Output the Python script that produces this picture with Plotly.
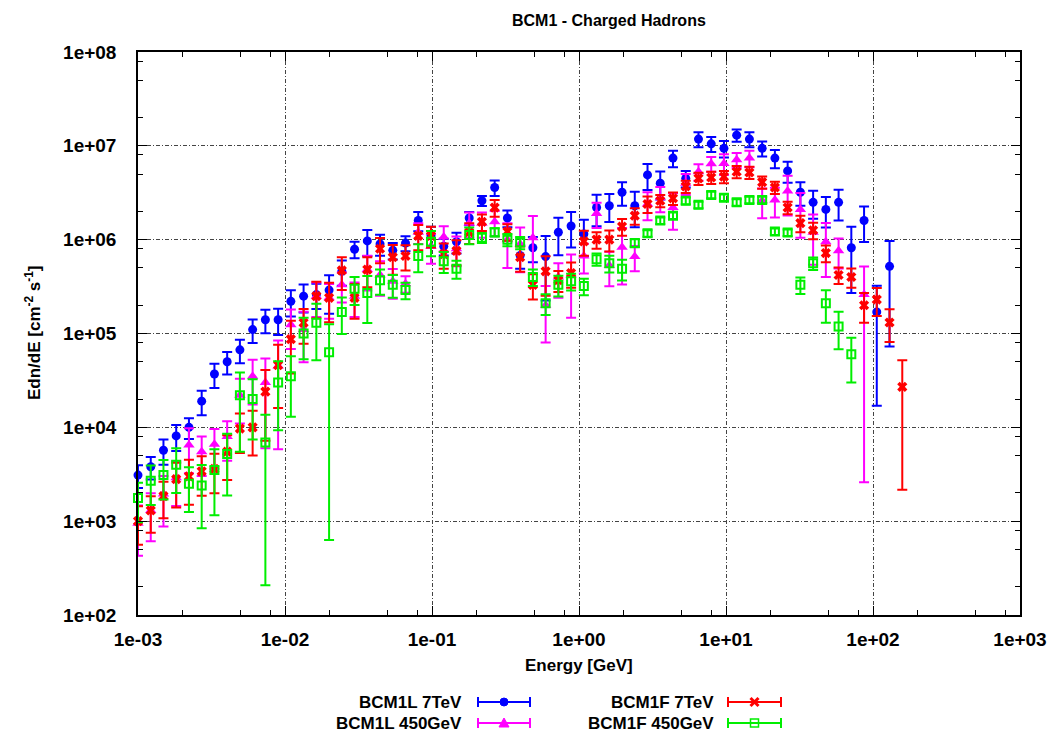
import plotly.graph_objects as go

# ---------------- data ----------------
energy = [0.001, 0.001221, 0.00149, 0.001819, 0.002221, 0.002712, 0.003311, 0.004042,
          0.004934, 0.006024, 0.007354, 0.008978, 0.01096, 0.01338, 0.01634, 0.01995,
          0.02435, 0.02973, 0.0363, 0.04431, 0.0541, 0.06604, 0.08063, 0.09843,
          0.1202, 0.1467, 0.1791, 0.2186, 0.2669, 0.3258, 0.3978, 0.4856, 0.5929,
          0.7238, 0.8836, 1.079, 1.317, 1.608, 1.963, 2.396, 2.925, 3.571, 4.36,
          5.323, 6.498, 7.933, 9.685, 11.82, 14.43, 17.62, 21.51, 26.26, 32.06,
          39.14, 47.78, 58.33, 71.21, 86.94, 106.1, 129.6, 158.2]

bcm1l_7tev = [3.1e3, 3.8e3, 5.7e3, 8.1e3, 1.0e4, 1.9e4, 3.7e4, 5.0e4, 6.7e4, 1.1e5,
              1.4e5, 1.4e5, 2.2e5, 2.5e5, 2.6e5, 2.9e5, 4.6e5, 7.9e5, 9.7e5, 9.0e5,
              7.7e5, 9.2e5, 1.6e6, 1.1e6, 8.5e5, 9.5e5, 1.7e6, 2.6e6, 3.6e6, 1.7e6,
              6.8e5, 8.2e5, 6.6e5, 1.2e6, 1.4e6, 1.15e6, 2.2e6, 2.3e6, 3.2e6, 2.3e6,
              4.9e6, 4.0e6, 7.4e6, 4.5e6, 1.18e7, 1.05e7, 9.4e6, 1.3e7, 1.18e7, 9.4e6,
              7.4e6, 5.4e6, 3.2e6, 2.5e6, 2.1e6, 2.5e6, 8.2e5, 1.6e6, 1.7e5, 5.2e5]
bcm1l_7tev_relerr = [.27, .27, .30, .31, .25, .29, .29, .27, .28, .28,
                     .28, .31, .31, .33, .30, .44, .30, .20, .31, .25,
                     .20, .18, .23, .25, .20, .25, .16, .12, .19, .20,
                     .28, .30, .66, .43, .41, .42, .37, .33, .28, .41,
                     .31, .33, .20, .20, .18, .18, .20, .15, .18, .18,
                     .22, .25, .28, .33, .36, .36, .67, .41, .90, .86]

bcm1l_450gev = [9.5e2, 1.3e3, 1.95e3, 2.9e3, 6.5e3, 5.5e3, 6.6e3, 8.0e3, 2.2e4, 3.5e4,
                3.0e4, 4.5e4, 1.24e5, 1.1e5, 2.5e5, 2.4e5, 3.3e5, 2.5e5, 4.8e5, 4.2e5,
                3.6e5, 3.4e5, 1.2e6, 8.5e5, 1.07e6, 8.0e5, 1.5e6, 1.5e6, 1.55e6, 1.0e6,
                9.0e5, 1.05e6, 2.0e5, 4.0e5, 4.2e5, 6.7e5, 1.9e6, 5.3e5, 8.3e5, 6.6e5,
                2.4e6, 2.8e6, 2.2e6, 4.0e6, 5.3e6, 6.45e6, 6.5e6, 7.1e6, 7.4e6, 2.6e6,
                2.65e6, 3.3e6, 2.1e6, 1.2e6, 9.5e5, 7.6e5, None, 2.6e5]
bcm1l_450gev_relerr = [.55, .53, .55, .50, .50, .45, .45, .45, .50, .50,
                       .80, .87, .45, .55, .40, .40, .35, .40, .40, .40,
                       .35, .20, .25, .35, .30, .35, .30, .30, .30, .50,
                       .50, .70, .60, .40, .65, .35, .30, .40, .60, .30,
                       .33, .30, .42, .25, .20, .18, .25, .18, .20, .35,
                       .35, .45, .50, .55, .58, .35, 0, .99]

bcm1f_7tev = [1.0e3, 1.3e3, 1.85e3, 2.8e3, 3.0e3, 3.4e3, 3.6e3, 5.5e3, 9.7e3, 1.0e4,
              2.4e4, 4.6e4, 8.7e4, 1.3e5, 2.5e5, 2.4e5, 4.7e5, 2.4e5, 4.8e5, 8.0e5,
              6.5e5, 6.7e5, 1.1e6, 1.1e6, 7.0e5, 7.6e5, 1.2e6, 1.55e6, 2.2e6, 1.22e6,
              6.5e5, 3.3e5, 4.6e5, 3.7e5, 4.4e5, 9.6e5, 1.0e6, 1.0e6, 1.38e6, 1.8e6,
              2.4e6, 2.6e6, 2.76e6, 3.7e6, 4.5e6, 4.6e6, 4.7e6, 5.3e6, 5.2e6, 4.1e6,
              3.6e6, 2.2e6, 1.5e6, 1.26e6, 7.2e5, 4.2e5, 4.0e5, 2.0e5, 2.3e5, 1.31e5,
              2.7e4]
bcm1f_7tev_relerr = [.44, .42, .42, .50, .50, .45, .45, .50, .45, .50,
                     .70, .65, .57, .40, .42, .45, .38, .40, .35, .30,
                     .35, .30, .30, .25, .30, .30, .25, .20, .20, .20,
                     .30, .30, .45, .25, .30, .30, .20, .25, .20, .20,
                     .20, .15, .15, .15, .15, .15, .15, .15, .15, .15,
                     .15, .15, .20, .20, .20, .20, .23, .35, .33, .38,
                     .92]

bcm1f_450gev = [1.77e3, 2.7e3, 3.1e3, 4.0e3, 2.5e3, 2.4e3, 3.5e3, 5.2e3, 2.2e4, 2.0e4,
                6.9e3, 3.0e4, 3.5e4, 1.0e5, 1.3e5, 6.3e4, 1.7e5, 3.0e5, 2.7e5, 3.7e5,
                3.3e5, 2.9e5, 6.7e5, 9.5e5, 5.9e5, 4.9e5, 1.12e6, 1.05e6, 1.2e6, 1.0e6,
                9.3e5, 4.0e5, 2.1e5, 3.3e5, 3.6e5, 3.2e5, 6.2e5, 5.6e5, 4.9e5, 9.2e5,
                1.17e6, 1.6e6, 1.8e6, 2.6e6, 2.35e6, 3.0e6, 2.8e6, 2.5e6, 2.65e6, 2.65e6,
                1.22e6, 1.19e6, 3.3e5, 5.6e5, 2.1e5, 1.19e5, 6.0e4]
bcm1f_450gev_relerr = [.45, .45, .45, .50, .50, .65, .67, .64, .75, .63,
                       .97, .69, .63, .47, .60, .99, .42, .33, .52, .30,
                       .27, .20, .33, .30, .25, .22, .20, .12, .10, .15,
                       .15, .20, .25, .25, .20, .20, .15, .20, .25, .10,
                       .08, .08, .08, .08, .08, .08, .08, .08, .08, .08,
                       .08, .08, .20, .15, .38, .43, .50]

series_names = ["BCM1L 7TeV", "BCM1L 450GeV", "BCM1F 7TeV", "BCM1F 450GeV"]
x_tick_vals = [1e-3, 1e-2, 1e-1, 1e0, 1e1, 1e2, 1e3]
x_tick_text = ["1e-03", "1e-02", "1e-01", "1e+00", "1e+01", "1e+02", "1e+03"]
y_tick_vals = [1e2, 1e3, 1e4, 1e5, 1e6, 1e7, 1e8]
y_tick_text = ["1e+02", "1e+03", "1e+04", "1e+05", "1e+06", "1e+07", "1e+08"]

# ---------------- styling ----------------
FONT = "Liberation Sans, Arial, Helvetica, sans-serif"
colors = ["#0000ff", "#ff00ff", "#ff0000", "#00ee00"]
symbols = ["circle", "triangle-up", "x", "square-open"]
sizes = [9, 10, 9, 8]

series = [(bcm1l_7tev, bcm1l_7tev_relerr),
          (bcm1l_450gev, bcm1l_450gev_relerr),
          (bcm1f_7tev, bcm1f_7tev_relerr),
          (bcm1f_450gev, bcm1f_450gev_relerr)]

fig = go.Figure()
for (vals, rel), name, col, sym, sz in zip(series, series_names, colors, symbols, sizes):
    xs = energy[:len(vals)]
    errs = [None if v is None else v * r for v, r in zip(vals, rel)]
    fig.add_trace(go.Scatter(
        x=xs, y=vals, mode="markers", name=name, showlegend=False, cliponaxis=False,
        marker=dict(symbol=sym, size=sz, color=col,
                    line=dict(width=2 if sym == "square-open" else 0, color=col)),
        error_y=dict(type="data", array=errs, visible=True, color=col,
                     thickness=2, width=5),
    ))

minor_x = [m * 10 ** d for d in range(-3, 3) for m in (2, 5, 8)]
minor_y = [m * 10 ** d for d in range(2, 8) for m in (2, 5, 8)]

axis_common = dict(
    type="log", showline=True, linecolor="black", linewidth=1.5, mirror="allticks",
    ticks="inside", ticklen=9, tickwidth=1, tickcolor="black",
    showgrid=True, gridcolor="#444444", griddash="4px,2px,1px,2px", gridwidth=1,
    zeroline=False, tickmode="array", automargin=False,
    tickfont=dict(family=FONT, size=19, color="black", weight="bold"),
)
fig.update_xaxes(**axis_common, range=[-3, 3], tickvals=x_tick_vals, ticktext=x_tick_text,
                 ticklabelstandoff=6,
                 minor=dict(tickmode="array", tickvals=minor_x, ticks="inside",
                            ticklen=5, tickcolor="black", showgrid=False))
fig.update_yaxes(**axis_common, range=[2, 8], tickvals=y_tick_vals, ticktext=y_tick_text,
                 ticklabelstandoff=16,
                 minor=dict(tickmode="array", tickvals=minor_y, ticks="inside",
                            ticklen=5, tickcolor="black", showgrid=False))

W, H = 1049, 734
L, R, T, B = 138, 29, 52, 119
pw, ph = W - L - R, H - T - B


def px(xp):
    return (xp - L) / pw


def py(yp):
    return (H - B - yp) / ph


annotations = [
    dict(text="BCM1 - Charged Hadrons", x=px(609), y=py(20), xref="paper", yref="paper",
         xanchor="center", yanchor="middle",
         showarrow=False, font=dict(family=FONT, size=16, color="black", weight="bold")),
    dict(text="Energy [GeV]", x=px(579), y=py(665), xref="paper", yref="paper",
         xanchor="center", yanchor="middle",
         showarrow=False, font=dict(family=FONT, size=17, color="black", weight="bold")),
    dict(text="Edn/dE [cm<sup>-2</sup> s<sup>-1</sup>]", x=px(33), y=py(333),
         xref="paper", yref="paper", textangle=-90, showarrow=False,
         xanchor="center", yanchor="middle",
         font=dict(family=FONT, size=17, color="black", weight="bold")),
]

shapes = []
# legend layout: (text right edge, line start, line end, row y)
legend_pos = [(464, 478, 530, 702), (464, 478, 530, 723),
              (716, 728, 781, 702), (716, 728, 781, 723)]
for name, col, sym, (tx, lx0, lx1, ly) in zip(series_names, colors, symbols, legend_pos):
    annotations.append(dict(text=name, x=px(tx), y=py(ly), xref="paper", yref="paper",
                            xanchor="right", yanchor="middle", showarrow=False,
                            font=dict(family=FONT, size=17, color="black", weight="bold")))
    shapes.append(dict(type="line", xref="paper", yref="paper", x0=px(lx0), x1=px(lx1),
                       y0=py(ly), y1=py(ly), line=dict(color=col, width=2)))
    for cx in (lx0, lx1):
        shapes.append(dict(type="line", xref="paper", yref="paper", x0=px(cx), x1=px(cx),
                           y0=py(ly - 5), y1=py(ly + 5), line=dict(color=col, width=2)))
    mx = (lx0 + lx1) / 2
    if sym == "circle":
        shapes.append(dict(type="circle", xref="paper", yref="paper",
                           x0=px(mx - 4), x1=px(mx + 4), y0=py(ly + 4), y1=py(ly - 4),
                           fillcolor=col, line=dict(color=col, width=1)))
    elif sym == "triangle-up":
        path = "M {} {} L {} {} L {} {} Z".format(px(mx - 5), py(ly + 4), px(mx + 5), py(ly + 4),
                                                  px(mx), py(ly - 5))
        shapes.append(dict(type="path", xref="paper", yref="paper", path=path,
                           fillcolor=col, line=dict(color=col, width=1)))
    elif sym == "x":
        for a, b in ((-4, 4), (4, -4)):
            shapes.append(dict(type="line", xref="paper", yref="paper",
                               x0=px(mx - 4), x1=px(mx + 4), y0=py(ly + a), y1=py(ly + b),
                               line=dict(color=col, width=3)))
    else:
        shapes.append(dict(type="rect", xref="paper", yref="paper",
                           x0=px(mx - 4), x1=px(mx + 4), y0=py(ly + 4), y1=py(ly - 4),
                           line=dict(color=col, width=1.5)))

fig.update_layout(
    width=W, height=H, margin=dict(l=L, r=R, t=T, b=B),
    paper_bgcolor="white", plot_bgcolor="white",
    showlegend=False, annotations=annotations, shapes=shapes,
    font=dict(family=FONT, color="black"),
)

fig.write_html("out.html")
